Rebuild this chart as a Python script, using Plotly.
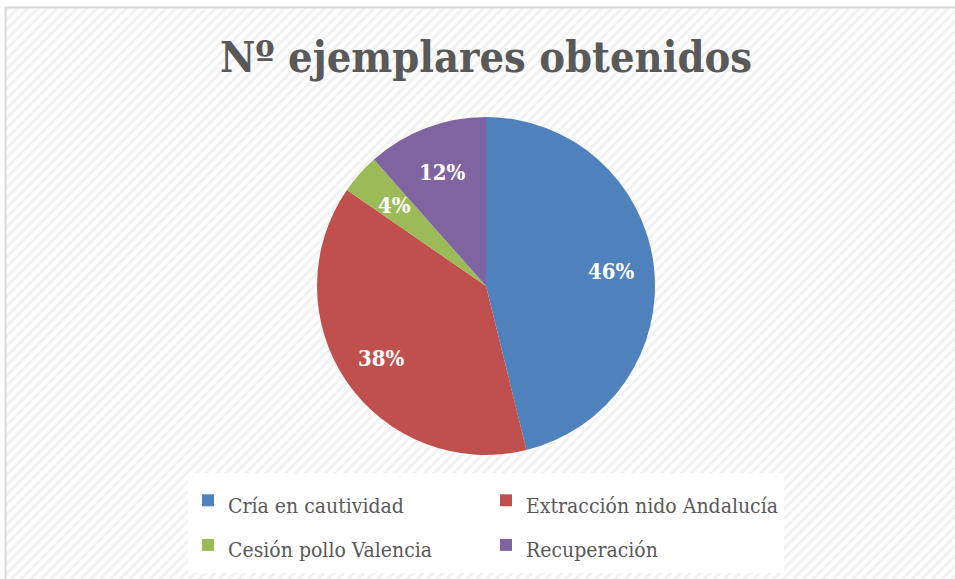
import base64
import math
import plotly.graph_objects as go

categories = ["Cría en cautividad", "Extracción nido Andalucía", "Cesión pollo Valencia", "Recuperación"]
counts = [12, 10, 1, 3]
colors = ["#4F81BD", "#C0504D", "#9BBB59", "#8064A2"]
title_text = "Nº ejemplares obtenidos"

W, H = 955, 579
ML, MR = 0, 120          # right margin narrows the plot area so the legend wraps to 2 columns
PW = W - ML - MR
FONT = "DejaVu Serif Condensed, DejaVu Serif"


def fx(px):
    return (px - ML) / PW


def fy(py):
    return 1 - py / H


# pie placement (pixels)
CX, CY, R = 486, 286, 169

svg = f'''<svg xmlns="http://www.w3.org/2000/svg" width="{W}" height="{H}">
<defs><pattern id="p" width="7" height="7" patternUnits="userSpaceOnUse" patternTransform="rotate(45)">
<rect width="7" height="7" fill="#ffffff"/><rect width="3" height="7" fill="#f2f2f2"/></pattern></defs>
<rect width="{W}" height="{H}" fill="url(#p)"/></svg>'''
src = "data:image/svg+xml;base64," + base64.b64encode(svg.encode()).decode()

fig = go.Figure()
fig.add_trace(go.Pie(
    labels=[f'<span style="font-size:21px">{c}</span>' for c in categories],
    values=counts, sort=False, direction="clockwise", rotation=0,
    marker=dict(colors=colors, line=dict(width=0)),
    textinfo="none",
    domain=dict(x=[fx(CX - R), fx(CX + R)], y=[fy(CY + R), fy(CY - R)]),
    hovertext=categories, hoverinfo="text+value+percent",
))

# percentage labels placed along each slice's mid-angle (derived from the data)
total = sum(counts)
annotations = []
cum = 0
for v in counts:
    mid = 2 * math.pi * (cum + v / 2) / total
    cum += v
    rr = 0.75 * R if v / total > 0.2 else 0.72 * R
    px = CX + rr * math.sin(mid)
    py = CY - rr * math.cos(mid)
    annotations.append(dict(
        text=f"{round(100 * v / total)}%", xref="paper", yref="paper",
        x=fx(px), y=fy(py), showarrow=False, xanchor="center", yanchor="middle",
        font=dict(family=FONT, size=22, color="white", weight="bold")))

fig.update_layout(
    width=W, height=H,
    margin=dict(l=ML, r=MR, t=0, b=0, autoexpand=False),
    paper_bgcolor="white",
    images=[dict(source=src, xref="paper", yref="paper", x=fx(6), y=fy(8),
                 sizex=W / PW, sizey=1, sizing="stretch", xanchor="left", yanchor="top", layer="below")],
    shapes=[dict(type="rect", xref="paper", yref="paper", x0=fx(5.5), y0=fy(585), x1=fx(962), y1=fy(7.5),
                 line=dict(color="#d9d9d9", width=2), fillcolor="rgba(0,0,0,0)", layer="below")],
    title=dict(text=title_text, xref="container", x=486 / W, xanchor="center", y=1 - 57 / H, yanchor="middle",
               font=dict(family=FONT, size=43, color="#595959", weight="bold")),
    annotations=annotations,
    legend=dict(orientation="h", x=fx(188), xanchor="left", y=fy(473), yanchor="top",
                bgcolor="white", entrywidth=253, entrywidthmode="pixels",
                font=dict(family=FONT, size=32, color="#595959"),
                itemwidth=30, tracegroupgap=0),
)

fig.write_html("out.html")
